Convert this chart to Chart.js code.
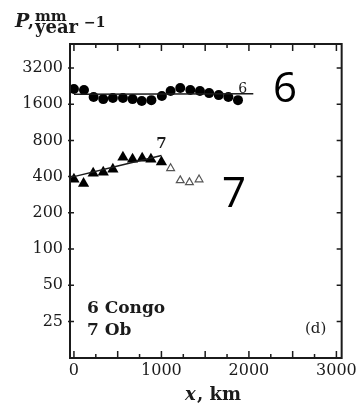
<!DOCTYPE html>
<html>
<head>
<meta charset="utf-8">
<script src="https://cdn.jsdelivr.net/npm/chart.js@4"></script>
<style>
   html, body { margin: 0; padding: 0; background: #ffffff; }
   #wrap { width: 360px; height: 411px; position: relative; }
</style>
</head>
<body>
<div id="wrap"><canvas id="graphique"></canvas></div>
<script>
// Congo (6) : points mesurés
const congoX = [0, 115, 225, 335, 445, 560, 670, 775, 885, 1005, 1105, 1215, 1330, 1440, 1545, 1655, 1765, 1875];
const congoP = [2140, 2100, 1835, 1765, 1800, 1800, 1765, 1700, 1730, 1870, 2060, 2180, 2100, 2060, 1980, 1905, 1835, 1730];
const congoFitX = [0, 2050];
const congoFitP = [1940, 1960];

// Ob (7) : triangles pleins, puis triangles vides en aval
const obX = [0, 110, 220, 335, 445, 560, 670, 780, 880, 1000];
const obP = [380, 351, 426, 435, 460, 579, 557, 568, 557, 530];
const obOpenX = [1105, 1215, 1320, 1430];
const obOpenP = [469, 372, 358, 378];
const obFitX = [0, 500, 1000];
const obFitP = [400, 490, 600];

const xTicks = [0, 1000, 2000, 3000];
const yTicks = [25, 50, 100, 200, 400, 800, 1600, 3200];

const ink = '#1b1b1b';
const serif = "'DejaVu Serif', serif";

function toPoints(xs, ys) {
   return xs.map((x, i) => ({x: x, y: ys[i]}));
}

// Cadre, graduations et textes
const cadrePlugin = {
   id: 'cadre',
   afterDraw(chart) {
      const ctx = chart.ctx;
      const a = chart.chartArea;
      const sx = chart.scales.x;
      const sy = chart.scales.y;
      ctx.save();
      ctx.strokeStyle = ink;
      ctx.lineWidth = 2;
      ctx.strokeRect(a.left, a.top, a.right - a.left, a.bottom - a.top);

      ctx.lineWidth = 1.5;
      ctx.beginPath();
      for (let v = 0; v <= 3000; v += 250) {
         const px = sx.getPixelForValue(v);
         const len = v % 500 === 0 ? 7 : 4;
         ctx.moveTo(px, a.bottom);
         ctx.lineTo(px, a.bottom - len);
         ctx.moveTo(px, a.top);
         ctx.lineTo(px, a.top + len);
      }
      yTicks.forEach(v => {
         const py = sy.getPixelForValue(v);
         ctx.moveTo(a.left - 2, py);
         ctx.lineTo(a.left + 4, py);
         ctx.moveTo(a.right, py);
         ctx.lineTo(a.right - 5, py);
      });
      ctx.stroke();

      ctx.fillStyle = ink;
      ctx.textBaseline = 'alphabetic';

      // Titre de l'axe vertical : P, mm / year^-1
      ctx.font = 'bold italic 19px ' + serif;
      ctx.fillText('P', 15, 27);
      ctx.font = 'bold 17px ' + serif;
      ctx.fillText(',', 28, 27);
      ctx.font = 'bold 15px ' + serif;
      ctx.fillText('mm', 35, 21);
      ctx.font = 'bold 18px ' + serif;
      ctx.fillText('year', 35, 33);
      ctx.font = 'bold 14px ' + serif;
      ctx.fillText('\u22121', 84, 27);

      // Titre de l'axe horizontal
      ctx.font = 'bold italic 18px ' + serif;
      ctx.fillText('x', 185, 400);
      ctx.font = 'bold 18px ' + serif;
      ctx.fillText(', km', 197, 400);

      // Légende
      ctx.font = 'bold 17px ' + serif;
      ctx.fillText('6 Congo', 87, 313);
      ctx.fillText('7 Ob', 87, 335);
      ctx.font = '15px ' + serif;
      ctx.fillText('(d)', 305, 333);

      // Numéros des courbes
      ctx.textAlign = 'center';
      ctx.font = '14px ' + serif;
      ctx.fillText('6', sx.getPixelForValue(1930), sy.getPixelForValue(2200) + 5);
      ctx.font = 'bold 15px ' + serif;
      ctx.fillText('7', sx.getPixelForValue(1000), sy.getPixelForValue(760) + 5);

      ctx.font = "42px 'Open Sans', sans-serif";
      ctx.fillStyle = '#000000';
      ctx.fillText('6', 285, 102);
      ctx.fillText('7', 234, 207);
      ctx.restore();
   }
};

new Chart(
   document.getElementById('graphique'),
   {
      type: 'scatter',
      data: {
         datasets: [
            {
               label: 'Congo fit',
               data: toPoints(congoFitX, congoFitP),
               showLine: true,
               borderColor: ink,
               borderWidth: 1.5,
               pointRadius: 0
            },
            {
               label: 'Ob fit',
               data: toPoints(obFitX, obFitP),
               showLine: true,
               borderColor: ink,
               borderWidth: 1.5,
               pointRadius: 0
            },
            {
               label: '6 Congo',
               data: toPoints(congoX, congoP),
               pointStyle: 'circle',
               pointRadius: 5,
               backgroundColor: '#000000',
               borderColor: '#000000',
               borderWidth: 0
            },
            {
               label: '7 Ob',
               data: toPoints(obX, obP),
               pointStyle: 'triangle',
               pointRadius: 6.5,
               backgroundColor: '#000000',
               borderColor: '#000000',
               borderWidth: 0
            },
            {
               label: '7 Ob (aval)',
               data: toPoints(obOpenX, obOpenP),
               pointStyle: 'triangle',
               pointRadius: 4.5,
               backgroundColor: '#ffffff',
               borderColor: '#555555',
               borderWidth: 1.2
            }
         ]
      },
      options: {
         responsive: true,
         maintainAspectRatio: false,
         animation: false,
         layout: {
            padding: {left: 0, right: 12, top: 44, bottom: 0}
         },
         plugins: {
            legend: {display: false},
            tooltip: {enabled: false}
         },
         scales: {
            x: {
               type: 'linear',
               min: -45,
               max: 3060,
               afterFit: function(scale) { scale.height = 53; },
               afterBuildTicks: function(scale) {
                  scale.ticks = xTicks.map(v => ({value: v}));
               },
               ticks: {
                  color: ink,
                  font: {family: serif, size: 16},
                  padding: 3,
                  maxRotation: 0,
                  callback: v => String(v)
               },
               grid: {display: false, drawTicks: false},
               border: {display: false}
            },
            y: {
               type: 'logarithmic',
               min: 12.4,
               max: 5070,
               afterFit: function(scale) { scale.width = 70; },
               afterBuildTicks: function(scale) {
                  scale.ticks = yTicks.map(v => ({value: v}));
               },
               ticks: {
                  color: ink,
                  font: {family: serif, size: 16},
                  padding: 7,
                  callback: v => String(v)
               },
               grid: {display: false, drawTicks: false},
               border: {display: false}
            }
         }
      },
      plugins: [cadrePlugin]
   }
);
</script>
</body>
</html>
